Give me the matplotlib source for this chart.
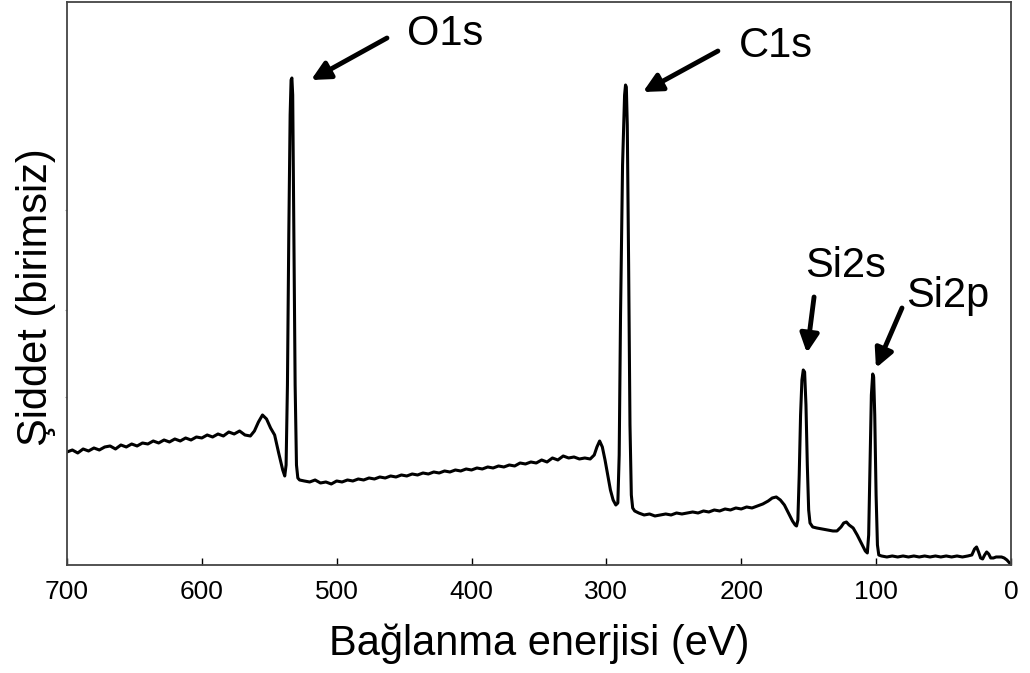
import matplotlib
matplotlib.use("Agg")
import matplotlib.pyplot as plt

plt.rcParams["font.family"] = ["Liberation Sans", "DejaVu Sans"]

# XPS survey spectrum (binding energy in eV, arbitrary intensity)
energy = [
    700, 696, 692, 688, 684, 680, 676, 672, 668, 664, 660, 656, 652, 648, 644, 640,
    636, 632, 628, 624, 620, 616, 612, 608, 604, 600, 596, 592, 588, 584, 580, 576,
    572, 568, 564, 561, 558, 555, 552, 549, 546, 543, 540, 538.5, 537.5, 536.5, 535.5,
    534.5, 533.8, 533.2, 532.6, 531.8, 530.8, 529.8, 528.8, 527.5,
    524, 520, 516, 512, 508, 504, 500, 496, 492, 488, 484, 480, 476, 472, 468, 464,
    460, 456, 452, 448, 444, 440, 436, 432, 428, 424, 420, 416, 412, 408, 404, 400,
    396, 392, 388, 384, 380, 376, 372, 368, 364, 360, 356, 352, 348, 344, 340, 336,
    332, 328, 324, 320, 316, 312, 309, 307, 305, 303, 301, 299, 297, 295, 293, 291.5,
    290.5, 289.5, 288, 286.5, 285.8, 285.2, 284.5, 283.5, 282.5, 281.5, 280.5, 279,
    276, 272, 268, 264, 260, 256, 252, 248, 244, 240, 236, 232, 228, 224, 220, 216,
    212, 208, 204, 200, 196, 192, 188, 184, 180, 177, 174, 171, 168, 165, 162, 160,
    159, 158, 157, 156, 155, 154, 153, 152, 151, 150, 149, 147,
    144, 140, 136, 132, 129, 126, 124, 122, 120, 117, 114, 111, 108, 106.5,
    105.5, 104.5, 103.5, 102.5, 101.8, 101, 100, 99, 98, 96,
    92, 88, 84, 80, 76, 72, 68, 64, 60, 56, 52, 48, 44, 40, 36, 32, 29, 27, 25.5, 24,
    22.5, 21, 19.5, 18, 16.5, 15, 13, 11, 9, 7, 5, 3, 1, 0,
]
intensity = [
    113, 115, 112, 116, 114, 117, 115, 118, 119, 116, 120, 118, 121, 119, 122, 121,
    124, 122, 125, 123, 126, 124, 127, 125, 128, 127, 130, 128, 131, 129, 133, 131,
    134, 130, 129, 134, 143, 150, 146, 137, 130, 112, 95, 89, 100, 180, 330,
    450, 485, 487, 470, 340, 180, 100, 87, 85,
    84, 83, 85, 82, 83, 81, 84, 83, 85, 84, 86, 85, 87, 86, 88, 87,
    89, 88, 90, 89, 91, 90, 92, 91, 93, 92, 94, 93, 95, 94, 96, 95,
    97, 96, 98, 97, 99, 98, 100, 99, 102, 101, 103, 102, 105, 103, 107, 105,
    109, 107, 108, 106, 107, 106, 110, 118, 124, 118, 105, 90, 75, 65, 60, 62,
    110, 250, 400, 470, 480, 478, 440, 300, 140, 70, 57, 54,
    52, 50, 51, 49, 50, 51, 50, 52, 51, 52, 53, 52, 54, 53, 55, 54,
    56, 55, 57, 56, 58, 57, 59, 61, 64, 67, 68, 65, 60, 52, 44, 40,
    39, 45, 90, 150, 185, 195, 193, 160, 100, 55, 42, 38,
    37, 36, 35, 34, 34, 38, 42, 43, 40, 37, 30, 22, 14, 12,
    30, 100, 170, 191, 188, 150, 70, 20, 10, 9,
    8, 9, 8, 9, 8, 9, 8, 9, 8, 9, 8, 9, 8, 9, 8, 9, 10, 16, 18, 13,
    7, 6, 10, 13, 11, 7, 7, 8, 8, 8, 7, 5, 2, 1,
]

x_ticks = [700, 600, 500, 400, 300, 200, 100, 0]
y_minor = [168, 255, 355]

peak_labels = ["O1s", "C1s", "Si2s", "Si2p"]
label_pos = [(419.7, 520), (174.3, 508), (122.3, 288), (47.0, 258)]
arrow_tail = [(462.7, 527), (217.3, 514), (146.0, 268), (80.8, 257)]
arrow_head = [(519.0, 485), (272.9, 473), (151.3, 212), (100.1, 197)]

fig = plt.figure(figsize=(10.3, 6.73), dpi=100)
ax = fig.add_axes([0.065, 0.1605, 0.9165, 0.8365])

ax.plot(energy, intensity, color="black", lw=2.2, solid_joinstyle="round")

ax.set_xlim(700, 0)
ax.set_ylim(0, 563)
ax.set_xticks(x_ticks)
ax.set_xticklabels([str(t) for t in x_ticks])
ax.tick_params(axis="x", direction="in", length=5, width=1, labelsize=19, pad=11)
ax.set_yticks(y_minor)
ax.set_yticklabels([])
ax.tick_params(axis="y", direction="out", length=1.5, width=0.8, color="#999999")

for sp in ax.spines.values():
    sp.set_color("#444444")
    sp.set_linewidth(1.3)

ax.set_xlabel("Bağlanma enerjisi (eV)", fontsize=30, labelpad=14)
ax.set_ylabel("Şiddet (birimsiz)", fontsize=30)
ax.yaxis.set_label_coords(-0.012, 0.476)

for name, (tx, ty), tail, head in zip(peak_labels, label_pos, arrow_tail, arrow_head):
    ax.text(tx, ty, name, fontsize=30, ha="center", va="baseline")
    ax.annotate("", xy=head, xytext=tail,
                arrowprops=dict(arrowstyle="-|>", lw=3.5, color="black",
                                mutation_scale=28, shrinkA=0, shrinkB=0))

fig.savefig("out.png", dpi=100)
